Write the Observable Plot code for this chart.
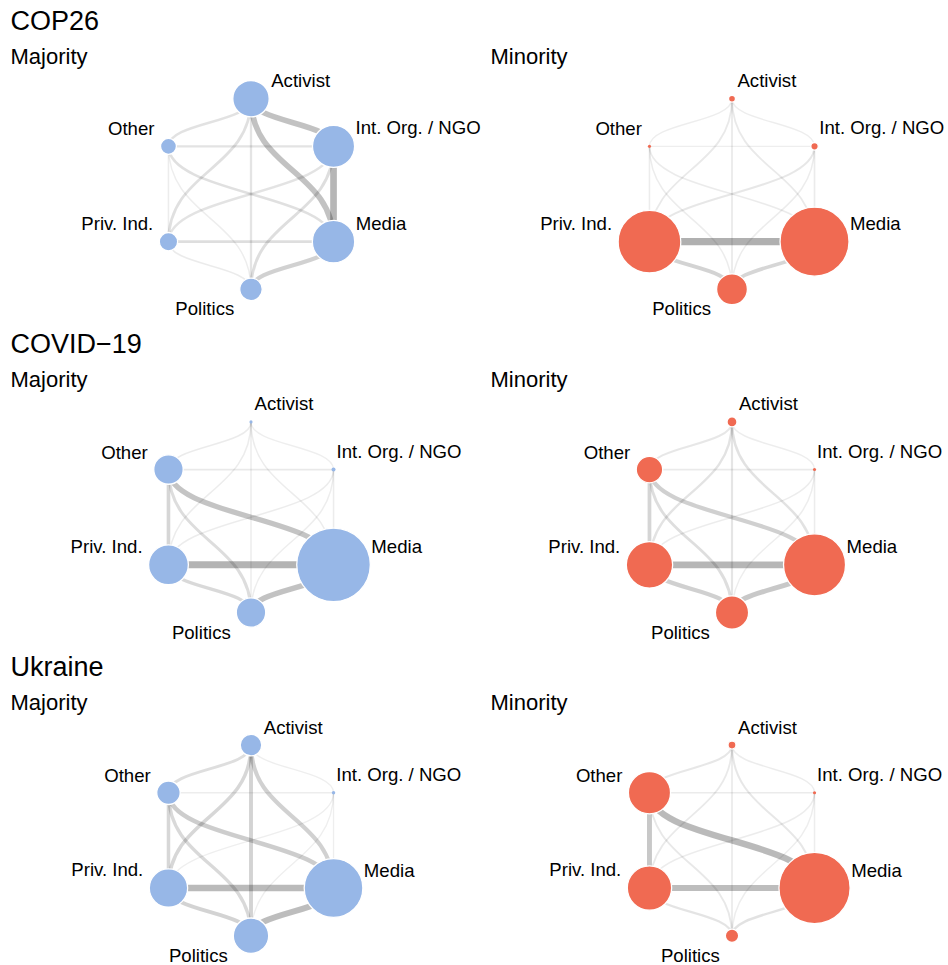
<!DOCTYPE html>
<html><head><meta charset="utf-8">
<script src="https://cdn.jsdelivr.net/npm/d3@7"></script>
<script src="https://cdn.jsdelivr.net/npm/@observablehq/plot@0.6"></script>
<style>body{margin:0;background:#fff} #chart svg{display:block}</style>
</head><body><div id="chart"></div>
<script>
// ---------- data ----------
const topics = ["COP26", "COVID\u221219", "Ukraine"];
const groups = ["Majority", "Minority"];
const actors = ["Activist", "Int. Org. / NGO", "Media", "Politics", "Priv. Ind.", "Other"];
const edgePairs = [
  ["Activist", "Int. Org. / NGO"], ["Activist", "Media"], ["Activist", "Politics"],
  ["Activist", "Priv. Ind."], ["Activist", "Other"], ["Int. Org. / NGO", "Media"],
  ["Int. Org. / NGO", "Politics"], ["Int. Org. / NGO", "Priv. Ind."], ["Int. Org. / NGO", "Other"],
  ["Media", "Politics"], ["Media", "Priv. Ind."], ["Media", "Other"],
  ["Politics", "Priv. Ind."], ["Politics", "Other"], ["Priv. Ind.", "Other"]
];

// node weights, in the order of `actors`
const cop26MajorityNodes   = [335, 449, 454, 128, 85, 64];
const cop26MinorityNodes   = [12, 14, 1204, 240, 992, 2.5];
const covidMajorityNodes   = [2.5, 4, 1369, 219, 400, 219];
const covidMinorityNodes   = [25, 2.5, 973, 279, 543, 177];
const ukraineMajorityNodes = [117, 3, 870, 317, 372, 139];
const ukraineMinorityNodes = [16, 2.5, 1282, 45, 497, 449];

// edge weights (0-100), in the order of `edgePairs`
const cop26MajorityEdges   = [72, 72, 18, 25, 22, 90, 28, 20, 20, 48, 28, 25, 8, 5, 6];
const cop26MinorityEdges   = [4, 10, 10, 10, 4, 8, 6, 14, 3, 40, 100, 8, 45, 6, 6];
const covidMajorityEdges   = [3, 6, 6, 6, 7, 6, 5, 6, 10, 72, 95, 68, 35, 30, 40];
const covidMinorityEdges   = [5, 22, 16, 20, 14, 6, 5, 6, 9, 62, 90, 50, 50, 28, 42];
const ukraineMajorityEdges = [3, 48, 45, 38, 28, 3, 3, 3, 4, 80, 85, 55, 45, 35, 38];
const ukraineMinorityEdges = [6, 14, 9, 10, 14, 5, 5, 6, 8, 22, 80, 85, 18, 12, 62];

const panels = [
  {topic: topics[0], group: groups[0], nodes: cop26MajorityNodes,   edges: cop26MajorityEdges},
  {topic: topics[0], group: groups[1], nodes: cop26MinorityNodes,   edges: cop26MinorityEdges},
  {topic: topics[1], group: groups[0], nodes: covidMajorityNodes,   edges: covidMajorityEdges},
  {topic: topics[1], group: groups[1], nodes: covidMinorityNodes,   edges: covidMinorityEdges},
  {topic: topics[2], group: groups[0], nodes: ukraineMajorityNodes, edges: ukraineMajorityEdges},
  {topic: topics[2], group: groups[1], nodes: ukraineMinorityNodes, edges: ukraineMinorityEdges}
];

// ---------- layout (circular / hexagon) ----------
const W = 948, H = 965;
const rowStep = 323.2;
const colCenter = [250.5, 731.5];
const subX = [10, 490];
const R = 95.3;
const angle = {"Activist": 90, "Int. Org. / NGO": 30, "Media": -30, "Politics": -90, "Priv. Ind.": -150, "Other": 150};
const vMax = 1369, rMax = 36.8;
const rPx = d3.scaleSqrt().domain([0, vMax]).range([0, rMax]);
const labelRule = {
  "Activist":        {anchor: "start", gap: 2,   dy: -11.5},
  "Int. Org. / NGO": {anchor: "start", gap: 1,   dy: -12},
  "Media":           {anchor: "start", gap: 1,   dy: -11.5},
  "Politics":        {anchor: "end",   gap: 5.5, dy: 26},
  "Priv. Ind.":      {anchor: "end",   gap: 6,   dy: -12},
  "Other":           {anchor: "end",   gap: 6,   dy: -11}
};

const nodes = [], edges = [], labels = [];
panels.forEach(p => {
  const ti = topics.indexOf(p.topic), gi = groups.indexOf(p.group);
  const cx = colCenter[gi], cy = ti * rowStep + 193.5;
  const pos = new Map(actors.map(a => {
    const t = angle[a] * Math.PI / 180;
    return [a, [cx + R * Math.cos(t), cy - R * Math.sin(t)]];
  }));
  actors.forEach((a, i) => {
    const v = p.nodes[i];
    const [x, y] = pos.get(a);
    nodes.push({topic: p.topic, group: p.group, actor: a, value: v, x, y});
    const rule = labelRule[a], rr = rPx(v);
    labels.push({actor: a, anchor: rule.anchor,
      x: x + (rule.anchor === "start" ? 1 : -1) * (rr + rule.gap), y: y + rule.dy});
  });
  edgePairs.forEach(([a, b], k) => {
    const [x1, y1] = pos.get(a), [x2, y2] = pos.get(b);
    edges.push({topic: p.topic, group: p.group, from: a, to: b, w: p.edges[k], x1, y1, x2, y2});
  });
});
edges.sort((a, b) => a.w - b.w);

const titles = topics.map((t, i) => ({text: t, x: 10, y: i * rowStep + 29.5}));
const subtitles = [];
topics.forEach((t, i) => groups.forEach((g, j) => subtitles.push({text: g, x: subX[j], y: i * rowStep + 63.3})));

const chart = Plot.plot({
  width: W, height: H, margin: 0,
  x: {domain: [0, W], range: [0, W], axis: null},
  y: {domain: [0, H], range: [0, H], axis: null},
  r: {domain: [0, vMax], range: [0, rMax]},
  opacity: {domain: [0, 100], range: [0.06, 0.31]},
  color: {domain: groups, range: ["#97b7e7", "#f06a52"]},
  style: {fontFamily: "'Liberation Sans', Arial, Helvetica, sans-serif", background: "white", color: "black"},
  marks: [
    Plot.link(edges, {x1: "x1", y1: "y1", x2: "x2", y2: "y2", curve: "bump-y",
      stroke: "black", strokeOpacity: "w", strokeWidth: d => 1.2 + 0.061 * d.w}),
    Plot.dot(nodes, {x: "x", y: "y", r: "value", fill: "group", stroke: "white",
      strokeWidth: d => rPx(d.value) < 3 ? 0 : 1.3}),
    Plot.text(labels.filter(d => d.anchor === "start"), {x: "x", y: "y", text: "actor",
      textAnchor: "start", lineAnchor: "bottom", fontSize: 18.6, fill: "black"}),
    Plot.text(labels.filter(d => d.anchor === "end"), {x: "x", y: "y", text: "actor",
      textAnchor: "end", lineAnchor: "bottom", fontSize: 18.6, fill: "black"}),
    Plot.text(titles, {x: "x", y: "y", text: "text", textAnchor: "start", lineAnchor: "bottom", fontSize: 27, fill: "black"}),
    Plot.text(subtitles, {x: "x", y: "y", text: "text", textAnchor: "start", lineAnchor: "bottom", fontSize: 22, fill: "black"})
  ]
});
document.getElementById("chart").appendChild(chart);
</script>
</body></html>
